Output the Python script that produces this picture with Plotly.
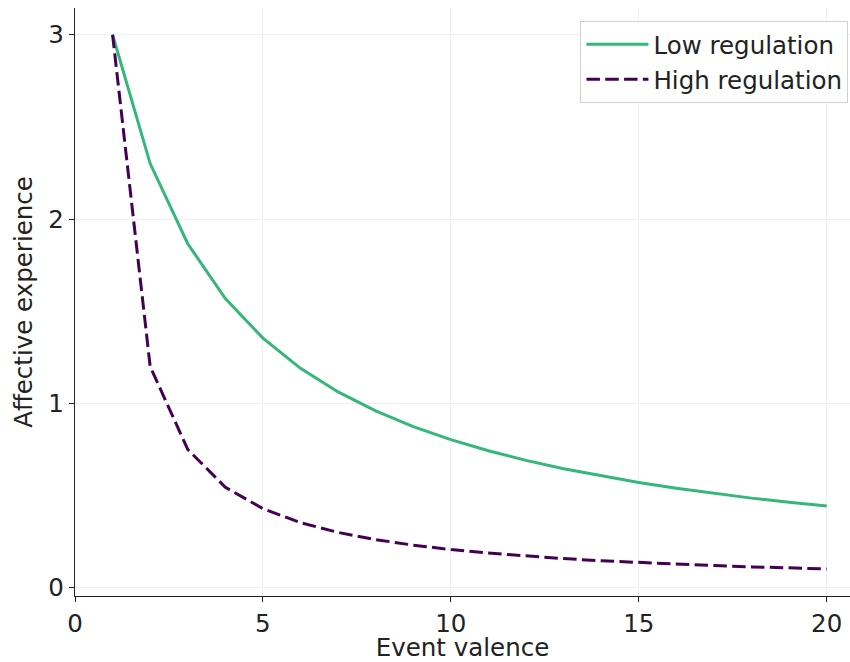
import plotly.graph_objects as go

event_valence = list(range(1, 21))
low_regulation = [3.000, 2.301, 1.866, 1.569, 1.354, 1.190, 1.062, 0.959, 0.874, 0.803,
                  0.743, 0.691, 0.645, 0.606, 0.571, 0.540, 0.512, 0.486, 0.464, 0.443]
high_regulation = [3.000, 1.200, 0.750, 0.545, 0.429, 0.353, 0.300, 0.261, 0.231, 0.207,
                   0.188, 0.171, 0.158, 0.146, 0.136, 0.128, 0.120, 0.113, 0.107, 0.102]
x_ticks = [0, 5, 10, 15, 20]
y_ticks = [0, 1, 2, 3]

font_family = "DejaVu Sans"
fs = 24.5

fig = go.Figure()
fig.add_trace(go.Scatter(x=event_valence, y=low_regulation, mode="lines",
                         name="Low regulation", legendgroup="a",
                         line=dict(color="#35b779", width=3)))
fig.add_trace(go.Scatter(x=event_valence, y=high_regulation, mode="lines",
                         name="High regulation", legendgroup="b",
                         line=dict(color="#440154", width=3, dash="13.5px,5.3px")))

axis_common = dict(
    showline=True, linecolor="#222222", linewidth=1.3,
    ticks="outside", ticklen=5, tickwidth=1.2, tickcolor="#222222",
    showgrid=True, gridcolor="#f0f0f0", gridwidth=1,
    zeroline=False, mirror=False, automargin=False,
    tickfont=dict(family=font_family, size=fs, color="#222222"),
    title_font=dict(family=font_family, size=fs, color="#222222"),
)

fig.update_xaxes(range=[0, 20.62], tickvals=x_ticks, title_text="Event valence",
                 title_standoff=4, **axis_common)
fig.update_yaxes(range=[-0.045, 3.145], tickvals=y_ticks, title_text="Affective experience",
                 title_standoff=8, **axis_common)

fig.update_layout(
    width=850, height=662,
    margin=dict(l=75, r=0, t=8, b=66),
    plot_bgcolor="white", paper_bgcolor="white",
    font=dict(family=font_family, size=fs, color="#222222"),
    legend=dict(x=0.998, y=0.978, xanchor="right", yanchor="top",
                bgcolor="rgba(255,255,255,0.85)", bordercolor="#d0d0d0", borderwidth=1,
                font=dict(family=font_family, size=fs, color="#222222"),
                tracegroupgap=0, itemwidth=62),
)

fig.write_html("out.html", config={"displayModeBar": False},
               post_script="document.body.style.margin='0';document.body.style.padding='0';")
